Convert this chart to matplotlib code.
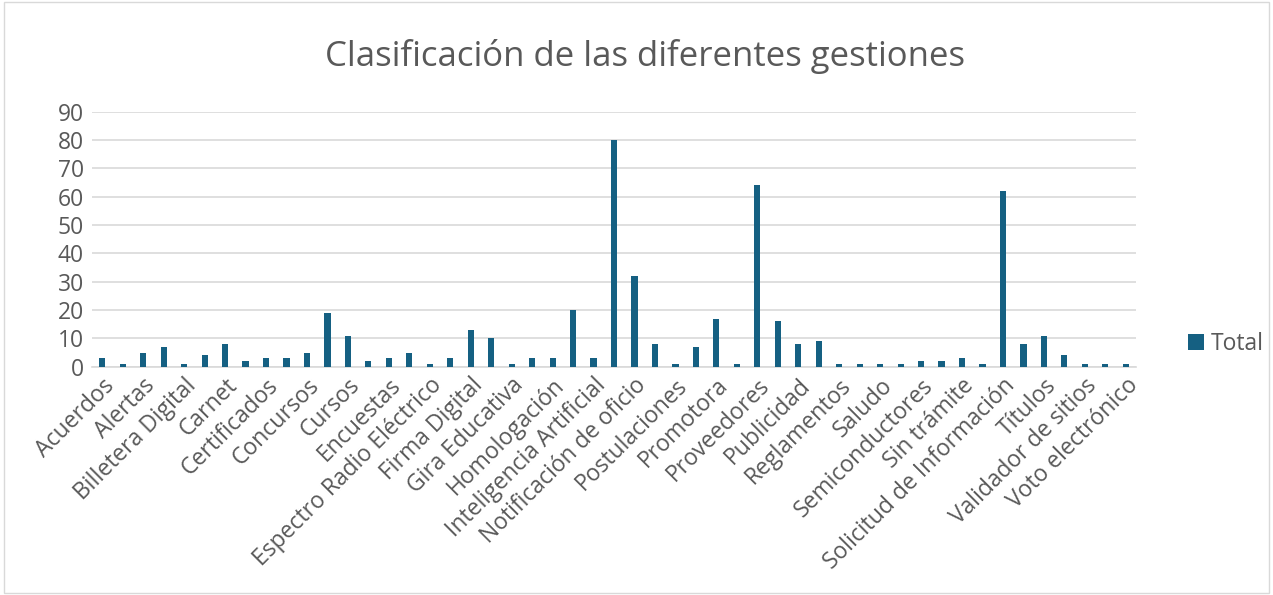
import matplotlib.pyplot as plt
import numpy as np
from matplotlib.patches import Rectangle

# datos de la tabla dinamica (solo se ven las etiquetas de cada segunda categoria)
etiquetas = ['Acuerdos', 'Alertas', 'Billetera Digital', 'Carnet', 'Certificados',
             'Concursos', 'Cursos', 'Encuestas', 'Espectro Radio Eléctrico',
             'Firma Digital', 'Gira Educativa', 'Homologación',
             'Inteligencia Artificial', 'Notificación de oficio', 'Postulaciones',
             'Promotora', 'Proveedores', 'Publicidad', 'Reglamentos', 'Saludo',
             'Semiconductores', 'Sin trámite', 'Solicitud de Información',
             'Títulos', 'Validador de sitios', 'Voto electrónico']
totales = [3, 1, 5, 7, 1, 4, 8, 2, 3, 3, 5, 19, 11, 2, 3, 5, 1, 3, 13, 10,
           1, 3, 3, 20, 3, 80, 32, 8, 1, 7, 17, 1, 64, 16, 8, 9, 1, 1, 1, 1,
           2, 2, 3, 1, 62, 8, 11, 4, 1, 1, 1]

azul = '#156082'
gris = '#595959'

plt.rcParams['font.family'] = ['Open Sans', 'DejaVu Sans']

fig = plt.figure(figsize=(12.73, 5.95), dpi=100)
fig.patches.append(Rectangle((0.003, 0.003), 0.994, 0.994, transform=fig.transFigure,
                             fill=False, edgecolor='#d9d9d9', linewidth=1))

ax = fig.add_axes([0.0723, 0.3837, 0.8201, 0.4286])
x = np.arange(len(totales))
ax.bar(x, totales, width=0.3, color=azul, label='Total', zorder=3)

ax.set_xlim(-0.5, len(totales) - 0.5)
ax.set_ylim(0, 90)
ax.set_yticks(range(0, 91, 10))
ax.grid(axis='y', color='#d9d9d9', linewidth=1.2, zorder=0)
ax.set_xticks(x[::2])
ax.set_xticklabels(etiquetas, rotation=45, ha='right', rotation_mode='anchor',
                   fontsize=16.5, color=gris)
ax.tick_params(axis='x', length=0, pad=5)
ax.tick_params(axis='y', length=0, labelsize=16.5, labelcolor=gris, pad=6)
for lado in ['top', 'right', 'left']:
    ax.spines[lado].set_visible(False)
ax.spines['bottom'].set_color('#d9d9d9')
ax.spines['bottom'].set_linewidth(1.2)

fig.text(0.507, 0.905, 'Clasificación de las diferentes gestiones', ha='center',
         va='center', fontsize=25, color=gris)

ax.legend(loc='center left', bbox_to_anchor=(1.03, 0.09), frameon=False,
          fontsize=16.5, labelcolor=gris, handlelength=0.7, handleheight=0.7,
          handletextpad=0.3)

fig.savefig('out.png', dpi=100)
